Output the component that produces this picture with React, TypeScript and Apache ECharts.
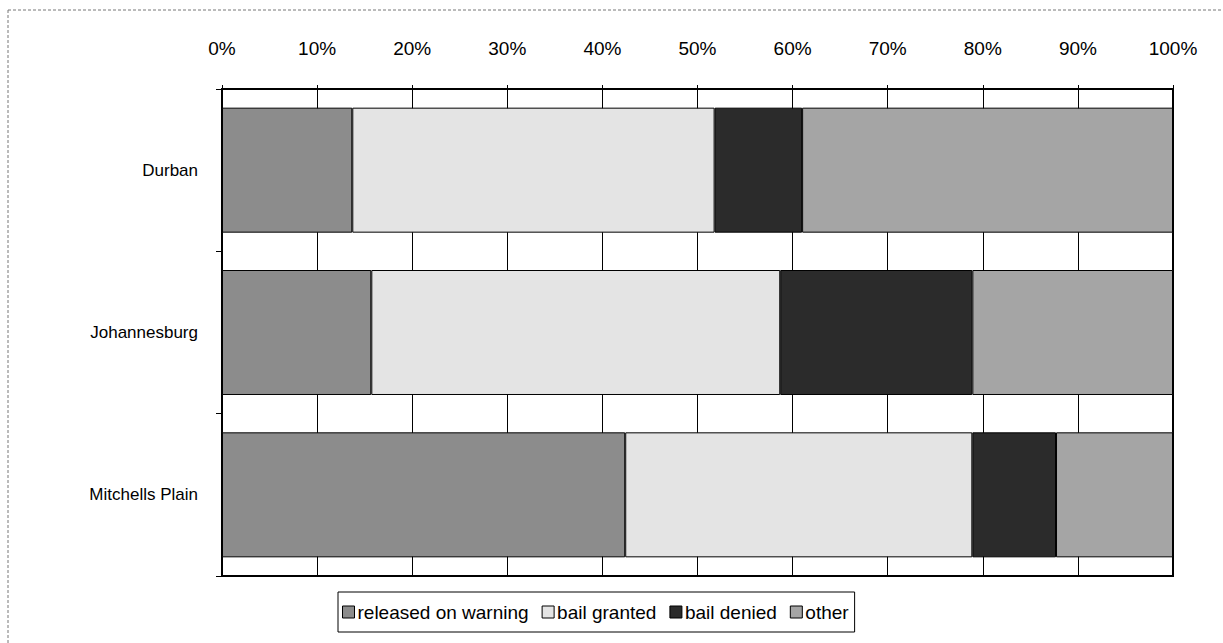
import React, { useEffect, useRef } from "react";
import * as echarts from "echarts";

// Court outcomes by site, as shares of all cases (%)
const sites = ["Durban", "Johannesburg", "Mitchells Plain"];
const releasedOnWarning = [13.7, 15.7, 42.4];
const bailGranted = [38.1, 43.0, 36.5];
const bailDenied = [9.2, 20.2, 8.8];
const other = [39.0, 21.1, 12.3];

const seriesNames = ["released on warning", "bail granted", "bail denied", "other"];
const seriesColors = ["#8c8c8c", "#e4e4e4", "#2b2b2b", "#a5a5a5"];

const FONT = "Liberation Sans, Arial, sans-serif";

export default function App() {
  const ref = useRef<HTMLDivElement>(null);

  useEffect(() => {
    if (!ref.current) return;
    const chart = echarts.init(ref.current, undefined, { renderer: "svg" });
    const values = [releasedOnWarning, bailGranted, bailDenied, other];

    chart.setOption({
      animation: false,
      backgroundColor: "#ffffff",
      textStyle: { fontFamily: FONT },
      grid: {
        left: 222,
        top: 89,
        width: 951,
        height: 487,
        show: true,
        borderColor: "#000",
        borderWidth: 2,
        backgroundColor: "transparent",
      },
      legend: {
        data: seriesNames,
        left: 338,
        top: 592,
        orient: "horizontal",
        icon: "rect",
        itemWidth: 12,
        itemHeight: 12,
        itemGap: 13,
        itemStyle: { borderColor: "#000", borderWidth: 1 },
        textStyle: { fontFamily: FONT, fontSize: 19, color: "#000", lineHeight: 20, padding: [0, 0, 0, -2] },
        borderColor: "#000",
        borderWidth: 1,
        padding: [10, 6, 10, 4],
        selectedMode: false,
      },
      xAxis: {
        type: "value",
        position: "top",
        min: 0,
        max: 100,
        interval: 10,
        axisLine: { show: false },
        axisTick: { show: true, length: 4, lineStyle: { color: "#000" } },
        axisLabel: {
          formatter: "{value}%",
          margin: 31,
          fontSize: 19,
          fontFamily: FONT,
          color: "#000",
        },
        splitLine: { show: true, lineStyle: { color: "#000", width: 1 } },
      },
      yAxis: {
        type: "category",
        data: sites,
        inverse: true,
        axisLine: { show: false },
        axisTick: { show: true, length: 6, lineStyle: { color: "#000" } },
        axisLabel: {
          margin: 24,
          fontSize: 17,
          fontFamily: FONT,
          color: "#000",
        },
      },
      series: seriesNames.map((name, i) => ({
        name,
        type: "bar",
        stack: "total",
        barWidth: "77%",
        data: values[i],
        itemStyle: {
          color: seriesColors[i],
          borderColor: "#000",
          borderWidth: 1,
        },
      })),
      graphic: [
        {
          type: "line",
          shape: { x1: 8, y1: 10, x2: 1223, y2: 10 },
          style: { stroke: "#777", lineWidth: 1, lineDash: [3, 2] },
        },
        {
          type: "line",
          shape: { x1: 8, y1: 10, x2: 8, y2: 643 },
          style: { stroke: "#777", lineWidth: 1, lineDash: [3, 2] },
        },
      ],
    });

    return () => chart.dispose();
  }, []);

  return (
    <div
      ref={ref}
      style={{ position: "fixed", left: 0, top: 0, width: 1223, height: 643 }}
    />
  );
}
